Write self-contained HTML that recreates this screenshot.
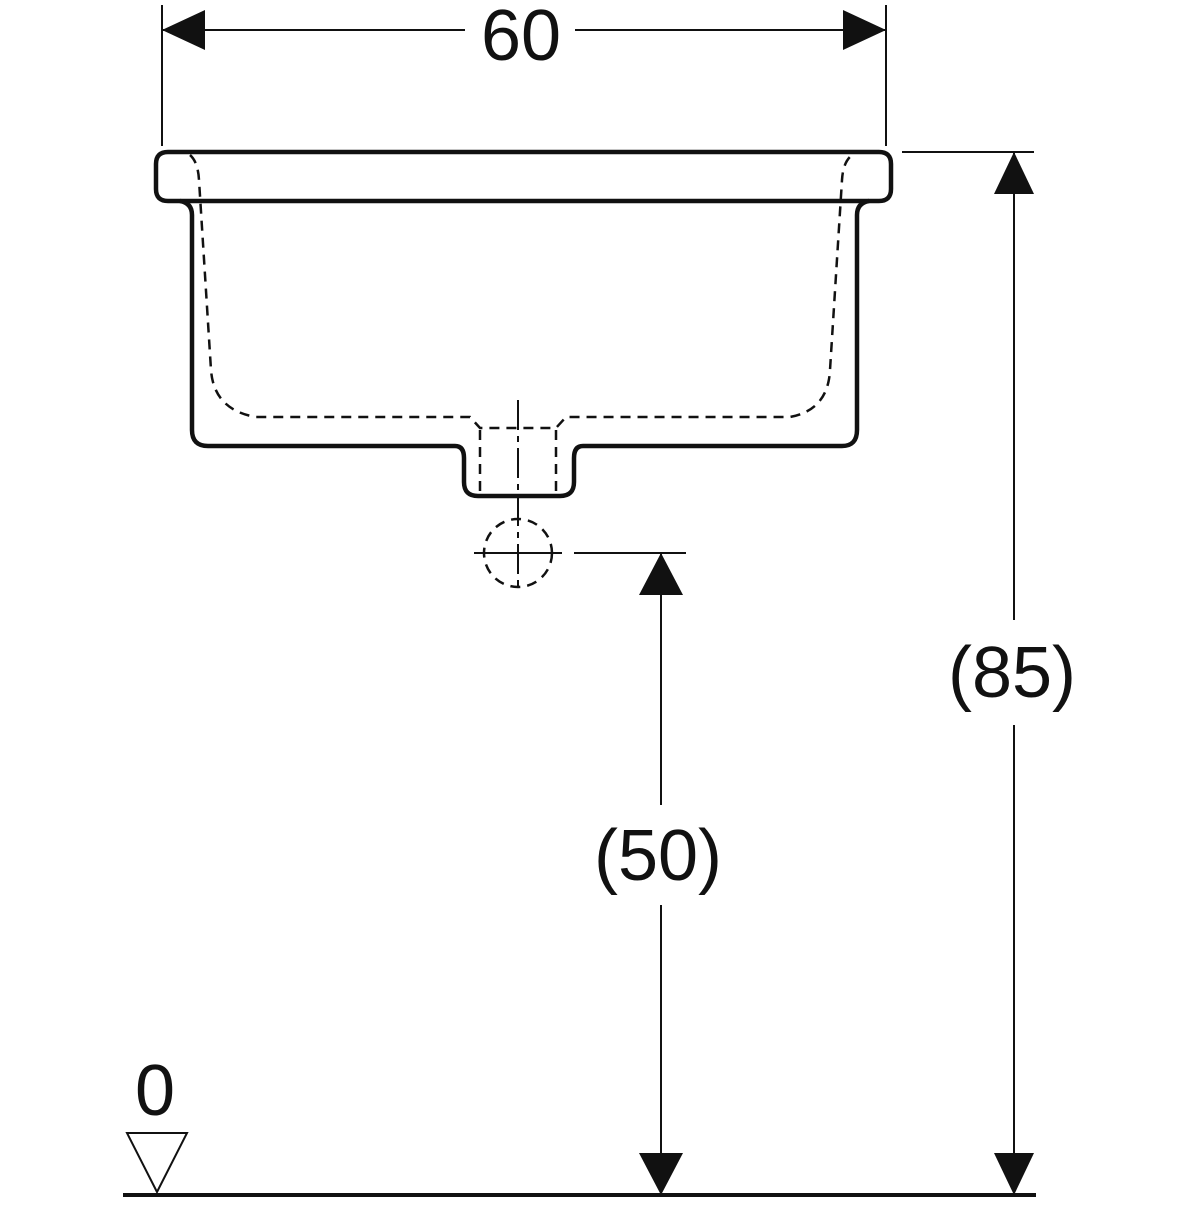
<!DOCTYPE html>
<html><head><style>html,body{margin:0;padding:0;background:#fff}</style></head>
<body>
<svg width="1200" height="1200" viewBox="0 0 1200 1200" xmlns="http://www.w3.org/2000/svg">
<g fill="none" stroke="#111" stroke-width="4.5" stroke-linejoin="round">
<path d="M168,152 H879 Q891,152 891,164 V189 Q891,201 879,201 H168 Q156,201 156,189 V164 Q156,152 168,152 Z"/>
<path d="M180,201 Q192,203 192,215 V430 Q192,446 208,446 H455 Q464,446 464,458 V482 Q464,496 478,496 H560 Q574,496 574,482 V458 Q574,446 583,446 H842 Q857,446 857,430 V215 Q857,203 869,201"/>
</g>
<g fill="none" stroke="#111" stroke-width="2.5" stroke-dasharray="10,7">
<path d="M190,155 Q198,162 199,180 L211,370 Q214,410 256,417 H470 L480,428 H556 L566,417 H790 Q828,410 830,370 L842,180 Q843,162 852,155"/>
<path d="M480,430 V496 M556,430 V496"/>
<circle cx="518" cy="553" r="34"/>
</g>
<g stroke="#111" stroke-width="2">
<path d="M518,400 V592" stroke-dasharray="30,6,6,6"/>
<path d="M474,553 H562"/>
<path d="M162,5 V146 M886,5 V146 M162,30 H465 M575,30 H886"/>
<path d="M902,152 H1034 M1014,152 V620 M1014,725 V1195"/>
<path d="M574,553 H686 M661,553 V805 M661,905 V1195"/>
<path d="M127,1133 H187 L157,1192 Z" fill="none"/>
</g>
<path d="M123,1195 H1036" stroke="#111" stroke-width="4"/>
<g fill="#111">
<path d="M162,30 L205,10 V50 Z"/>
<path d="M886,30 L843,10 V50 Z"/>
<path d="M1014,152 L994,194 H1034 Z"/>
<path d="M1014,1195 L994,1153 H1034 Z"/>
<path d="M661,553 L639,595 H683 Z"/>
<path d="M661,1195 L639,1153 H683 Z"/>
</g>
<g font-family="Liberation Sans, sans-serif" font-size="72" fill="#111" text-anchor="middle">
<text x="521" y="60">60</text>
<text x="1012" y="697">(85)</text>
<text x="658" y="880">(50)</text>
<text x="155" y="1115">0</text>
</g>
</svg>
</body></html>
